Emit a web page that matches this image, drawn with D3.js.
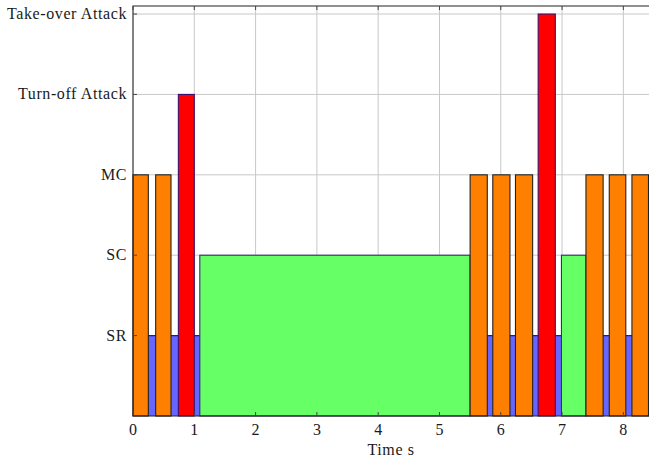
<!DOCTYPE html>
<html>
<head>
<meta charset="utf-8">
<script src="https://cdn.jsdelivr.net/npm/d3@7"></script>
<style>
  body { margin: 0; background: #fff; }
  text { font-family: "Liberation Serif", "DejaVu Serif", serif; }
</style>
</head>
<body>
<div id="chart"></div>
<script>
// state levels on the y axis
var levels = ["SR", "SC", "MC", "Turn-off Attack", "Take-over Attack"]

// time segments (s) and the state of each one
var starts = [0, 0.37, 0.74, 1.09, 5.50, 5.87, 6.24, 6.61, 6.99, 7.39, 7.77, 8.14]
var ends   = [0.25, 0.62, 1.00, 5.50, 5.78, 6.15, 6.52, 6.89, 7.39, 7.67, 8.04, 8.41]
var states = ["MC", "MC", "Turn-off Attack", "SC", "MC", "MC", "MC", "Take-over Attack", "SC", "MC", "MC", "MC"]

var xTicks = [0, 1, 2, 3, 4, 5, 6, 7, 8]

function create_vis() {
    var width = 649
    var height = 459
    var margin = {left: 133, top: 6, right: -5, bottom: 43}

    var svg = d3.select("#chart")
        .append("svg")
        .attr("width", width)
        .attr("height", height)

    var x = d3.scaleLinear().domain([0, 8.5]).range([margin.left, width - margin.right])
    var y = d3.scaleLinear().domain([0, 5.1]).range([height - margin.bottom, margin.top])

    var x0 = x.range()[0], x1 = x.range()[1]
    var y0 = y.range()[0], y1 = y.range()[1]

    var level = function(s) { return levels.indexOf(s) + 1 }

    // grid
    var grid = svg.append("g").attr("stroke", "#c8c8c8").attr("stroke-width", 1)
    grid.selectAll("line.gx")
        .data(xTicks)
        .enter().append("line")
        .attr("x1", (d) => x(d)).attr("x2", (d) => x(d))
        .attr("y1", y0).attr("y2", y1)
    grid.selectAll("line.gy")
        .data(levels)
        .enter().append("line")
        .attr("x1", x0).attr("x2", x1)
        .attr("y1", (d) => y(level(d))).attr("y2", (d) => y(level(d)))

    // base SR level across the whole run
    svg.append("rect")
        .attr("x", x(0)).attr("width", x(8.5) - x(0))
        .attr("y", y(1)).attr("height", y(0) - y(1))
        .attr("fill", "#6666ff")
    svg.append("line")
        .attr("x1", x(0)).attr("x2", x(8.5))
        .attr("y1", y(1)).attr("y2", y(1))
        .attr("stroke", "#1a1aa0").attr("stroke-width", 1.2)

    var fills = {"MC": "#ff8000", "SC": "#66ff66", "Turn-off Attack": "#ff0000", "Take-over Attack": "#ff0000"}
    var strokes = {"MC": "#222", "SC": "#303070", "Turn-off Attack": "#3a1070", "Take-over Attack": "#3a1070"}

    var segs = starts.map((s, i) => { return {start: s, end: ends[i], state: states[i]} })

    svg.append("g").selectAll("rect")
        .data(segs)
        .enter().append("rect")
        .attr("x", (d) => x(d.start))
        .attr("width", (d) => x(d.end) - x(d.start))
        .attr("y", (d) => y(level(d.state)))
        .attr("height", (d) => y(0) - y(level(d.state)))
        .attr("fill", (d) => fills[d.state])
        .attr("stroke", (d) => strokes[d.state])
        .attr("stroke-width", 1.1)

    // frame
    svg.append("rect")
        .attr("x", x0).attr("y", y1)
        .attr("width", x1 - x0).attr("height", y0 - y1)
        .attr("fill", "none").attr("stroke", "#222").attr("stroke-width", 1)

    // ticks (inside, both sides)
    var tk = svg.append("g").attr("stroke", "#444").attr("stroke-width", 1)
    xTicks.forEach((d) => {
        tk.append("line").attr("x1", x(d)).attr("x2", x(d)).attr("y1", y0).attr("y2", y0 - 4)
        tk.append("line").attr("x1", x(d)).attr("x2", x(d)).attr("y1", y1).attr("y2", y1 + 4)
    })
    levels.forEach((d) => {
        tk.append("line").attr("x1", x0).attr("x2", x0 + 4).attr("y1", y(level(d))).attr("y2", y(level(d)))
    })

    svg.append("g").selectAll("text")
        .data(xTicks)
        .enter().append("text")
        .attr("x", (d) => x(d))
        .attr("y", y0 + 19)
        .attr("text-anchor", "middle")
        .attr("font-size", 16)
        .attr("fill", "#1a1a1a")
        .text((d) => d)

    svg.append("g").selectAll("text")
        .data(levels)
        .enter().append("text")
        .attr("x", x0 - 6)
        .attr("y", (d) => y(level(d)) + 5)
        .attr("text-anchor", "end")
        .attr("font-size", 16)
        .attr("letter-spacing", 0.6)
        .attr("fill", "#1a1a1a")
        .text((d) => d)

    svg.append("text")
        .attr("x", (x0 + 649) / 2)
        .attr("y", 455)
        .attr("text-anchor", "middle")
        .attr("font-size", 16)
        .attr("letter-spacing", 0.6)
        .attr("fill", "#1a1a1a")
        .text("Time s")
}

create_vis()
</script>
</body>
</html>
